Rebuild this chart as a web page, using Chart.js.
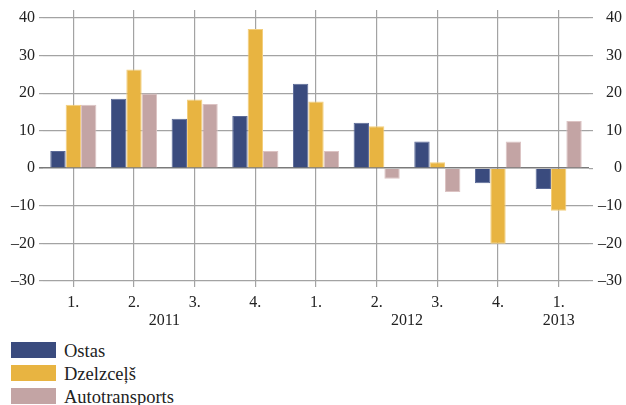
<!DOCTYPE html>
<html>
<head>
<meta charset="utf-8">
<script src="https://cdn.jsdelivr.net/npm/chart.js@4/dist/chart.umd.min.js"></script>
<style>
  html, body { margin: 0; padding: 0; background: #fff; width: 626px; height: 405px; overflow: hidden; }
  #wrap { position: relative; width: 626px; height: 405px; }
  #chartBox { position: absolute; left: 0; top: 0; width: 626px; height: 335px; }
  #legend { position: absolute; left: 11px; top: 342px; font-family: "Liberation Serif", serif; font-size: 18.5px; color: #222; }
  .item { height: 23px; display: flex; align-items: flex-start; }
  .box { width: 45px; height: 16px; margin-right: 8px; flex: none; }
  .lbl { line-height: 16px; margin-top: 1px; white-space: nowrap; }
</style>
</head>
<body>
<div id="wrap">
  <div id="chartBox"><canvas id="barChart"></canvas></div>
  <div id="legend"></div>
</div>
<script>
var quarters = ["1.", "2.", "3.", "4.", "1.", "2.", "3.", "4.", "1."];
var quarterYears = ["2011", "2011", "2011", "2011", "2012", "2012", "2012", "2012", "2013"];
var seriesNames = ["Ostas", "Dzelzceļš", "Autotransports"];
var seriesColors = ["#3a4b7e", "#e8b441", "#c3a4a4"];
var borderColors = ["#5b6a98", "#f3cf7e", "#dcc3c3"];
var ostas = [4.6, 18.5, 13.2, 13.9, 22.5, 12.1, 7.1, -4.0, -5.5];
var dzelzcels = [16.9, 26.3, 18.3, 37.1, 17.8, 11.2, 1.6, -20.1, -11.3];
var autotransports = [16.9, 19.9, 17.1, 4.6, 4.6, -2.8, -6.3, 7.1, 12.6];
var yTicks = [-30, -20, -10, 0, 10, 20, 30, 40];

var fontName = "'Liberation Serif', 'Times New Roman', serif";
var gridGray = "#a3a3a3";

function fmt(v) {
    return String(v).replace("-", "\u2013");
}

// year captions under the quarter labels
var yearLabels = {
    id: "yearLabels",
    afterDraw: function(chart) {
        var xs = chart.scales.x;
        var ctx = chart.ctx;
        var groups = [];
        var i;
        for (i = 0; i < quarterYears.length; i++) {
            var last = groups[groups.length - 1];
            if (last && last.year === quarterYears[i]) last.to = i;
            else groups.push({year: quarterYears[i], from: i, to: i});
        }
        ctx.save();
        ctx.font = "16px " + fontName;
        ctx.fillStyle = "#222";
        ctx.textAlign = "center";
        ctx.textBaseline = "middle";
        groups.forEach(function(g) {
            var px = (xs.getPixelForValue(g.from) + xs.getPixelForValue(g.to)) / 2;
            ctx.fillText(g.year, px, 321);
        });
        ctx.restore();
    }
};

function createChart() {
    var chart = document.getElementById("barChart");
    var values = [ostas, dzelzcels, autotransports];
    var datasets = [];
    var i;
    for (i = 0; i < seriesNames.length; i++) {
        datasets.push({
            label: seriesNames[i],
            data: values[i],
            backgroundColor: seriesColors[i],
            borderColor: borderColors[i],
            borderWidth: 1,
            categoryPercentage: 0.76,
            barPercentage: 1.0
        });
    }

    var yCommon = {
        min: -30,
        max: 40,
        afterBuildTicks: function(scale) {
            scale.ticks = yTicks.map(function(v) { return {value: v}; });
        },
        border: {display: false},
        ticks: {
            font: {family: fontName, size: 16},
            color: "#222",
            padding: 4,
            callback: function(v) { return fmt(v); }
        }
    };

    let myChart = new Chart(chart, {
        type: "bar",
        data: {
            labels: quarters,
            datasets: datasets
        },
        options: {
            responsive: true,
            maintainAspectRatio: false,
            animation: false,
            layout: {padding: {left: 0, right: 4, top: 0, bottom: 0}},
            plugins: {
                legend: {display: false},
                tooltip: {enabled: false}
            },
            scales: {
                x: {
                    position: "bottom",
                    offset: true,
                    grid: {offset: false, color: gridGray, lineWidth: 1.2, tickLength: 6},
                    border: {display: false},
                    ticks: {font: {family: fontName, size: 16}, color: "#222", padding: 6, maxRotation: 0},
                    afterFit: function(s) { s.height = 54; }
                },
                x2: {
                    position: "top",
                    type: "category",
                    labels: quarters,
                    offset: true,
                    grid: {offset: false, drawOnChartArea: false, color: gridGray, lineWidth: 1.2, tickLength: 8},
                    border: {display: false},
                    ticks: {display: false},
                    afterFit: function(s) { s.height = 18; }
                },
                y: Object.assign({}, yCommon, {
                    position: "left",
                    grid: {
                        color: function(c) { return c.tick && c.tick.value === 0 ? "#7a7a7a" : gridGray; },
                        lineWidth: function(c) { return c.tick && c.tick.value === 0 ? 1.6 : 1.2; },
                        tickLength: 4
                    },
                    afterFit: function(s) { s.width = 43; }
                }),
                y2: Object.assign({}, yCommon, {
                    position: "right",
                    grid: {drawOnChartArea: false, color: gridGray, lineWidth: 1.2, tickLength: 4},
                    ticks: Object.assign({}, yCommon.ticks, {crossAlign: "far"}),
                    afterFit: function(s) { s.width = 33; }
                })
            }
        },
        plugins: [yearLabels]
    });

    // legend as html, one row per series
    var legend = document.getElementById("legend");
    myChart.data.datasets.forEach(function(ds) {
        var row = document.createElement("div");
        row.className = "item";
        var box = document.createElement("div");
        box.className = "box";
        box.style.background = ds.backgroundColor;
        var lbl = document.createElement("span");
        lbl.className = "lbl";
        lbl.textContent = ds.label;
        row.appendChild(box);
        row.appendChild(lbl);
        legend.appendChild(row);
    });
}

createChart();
</script>
</body>
</html>
